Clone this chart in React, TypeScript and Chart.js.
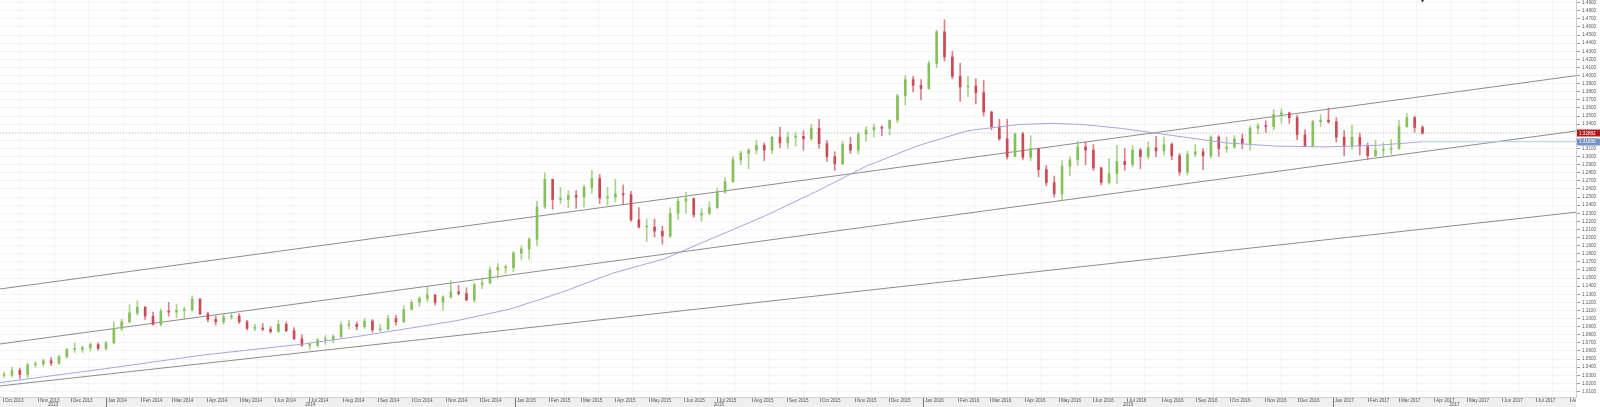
import React, { useEffect, useRef } from 'react';
import { Chart, registerables } from 'chart.js';

Chart.register(...registerables);

// ---------------- data ----------------
const firstWeekMonday = '2013-09-30';
const firstOpen = 1.03;

const weeklyClose = [
  // 2013
  1.0300, 1.0360, 1.0310, 1.0430, 1.0440, 1.0480, 1.0450, 1.0530, 1.0620, 1.0620, 1.0640, 1.0680, 1.0630, 1.0700,
  // 2014
  1.0880, 1.0960, 1.1070, 1.1140, 1.1030, 1.0930, 1.1090, 1.1080, 1.1100, 1.1110, 1.1240, 1.1060, 1.0990,
  1.0960, 1.1020, 1.1030, 1.0960, 1.0880, 1.0880, 1.0870, 1.0840, 1.0930, 1.0850, 1.0750, 1.0670, 1.0670,
  1.0740, 1.0740, 1.0780, 1.0920, 1.0930, 1.0900, 1.0970, 1.0860, 1.0870, 1.1000, 1.0960, 1.1110, 1.1200,
  1.1250, 1.1290, 1.1200, 1.1270, 1.1330, 1.1310, 1.1230, 1.1420, 1.1440, 1.1600, 1.1630, 1.1630, 1.1810,
  // 2015
  1.1860, 1.1980, 1.2380, 1.2720, 1.2470, 1.2470, 1.2520, 1.2500, 1.2620, 1.2730, 1.2490, 1.2500, 1.2540,
  1.2530, 1.2220, 1.2130, 1.2130, 1.2080, 1.2020, 1.2300, 1.2450, 1.2480, 1.2280, 1.2300, 1.2370, 1.2560,
  1.2690, 1.2960, 1.3040, 1.3080, 1.3140, 1.3080, 1.3240, 1.3170, 1.3240, 1.3250, 1.3220, 1.3350, 1.3160,
  1.3000, 1.2910, 1.3150, 1.3080, 1.3280, 1.3330, 1.3360, 1.3350, 1.3450, 1.3750, 1.3950, 1.3880, 1.3840,
  // 2016
  1.4150, 1.4540, 1.4230, 1.3990, 1.3860, 1.3870, 1.3790, 1.3550, 1.3370, 1.3220, 1.3000, 1.3280, 1.2990,
  1.3100, 1.2840, 1.2680, 1.2540, 1.2880, 1.2960, 1.3120, 1.3080, 1.2860, 1.2680, 1.2790, 1.2940, 1.2900,
  1.3080, 1.3000, 1.3110, 1.3070, 1.3150, 1.3010, 1.2810, 1.3030, 1.3060, 1.3010, 1.3240, 1.3100, 1.3120,
  1.3220, 1.3160, 1.3350, 1.3380, 1.3370, 1.3520, 1.3540, 1.3480, 1.3270, 1.3130, 1.3430, 1.3450, 1.3430,
  // 2017
  1.3240, 1.3130, 1.3240, 1.3130, 1.3010, 1.3080, 1.3090, 1.3100, 1.3370, 1.3480, 1.3360, 1.32882,
];

const weeklyHigh = [
  1.0340, 1.0400, 1.0390, 1.0450, 1.0470, 1.0500, 1.0520, 1.0550, 1.0630, 1.0700, 1.0660, 1.0700, 1.0700, 1.0720,
  1.0960, 1.0990, 1.1170, 1.1220, 1.1150, 1.1080, 1.1120, 1.1200, 1.1180, 1.1140, 1.1280, 1.1250, 1.1080,
  1.1030, 1.1050, 1.1060, 1.1060, 1.0980, 1.0930, 1.0940, 1.0900, 1.0980, 1.0960, 1.0890, 1.0800, 1.0700,
  1.0750, 1.0790, 1.0800, 1.0960, 1.0980, 1.0960, 1.1000, 1.0990, 1.0930, 1.1040, 1.1040, 1.1160, 1.1230,
  1.1270, 1.1390, 1.1300, 1.1280, 1.1470, 1.1410, 1.1380, 1.1440, 1.1500, 1.1640, 1.1680, 1.1660, 1.1830,
  1.1900, 1.2000, 1.2450, 1.2800, 1.2720, 1.2620, 1.2580, 1.2580, 1.2650, 1.2830, 1.2780, 1.2620, 1.2720,
  1.2650, 1.2570, 1.2370, 1.2230, 1.2230, 1.2140, 1.2370, 1.2500, 1.2560, 1.2490, 1.2360, 1.2440, 1.2610,
  1.2740, 1.3000, 1.3070, 1.3100, 1.3200, 1.3170, 1.3250, 1.3360, 1.3300, 1.3300, 1.3320, 1.3400, 1.3460,
  1.3200, 1.3060, 1.3190, 1.3240, 1.3300, 1.3370, 1.3400, 1.3380, 1.3450, 1.3770, 1.4000, 1.3990, 1.3950,
  1.4180, 1.4560, 1.4690, 1.4300, 1.4150, 1.3990, 1.3960, 1.3940, 1.3560, 1.3460, 1.3460, 1.3290, 1.3300,
  1.3260, 1.3100, 1.2890, 1.2760, 1.2950, 1.3000, 1.3190, 1.3180, 1.3150, 1.2870, 1.2980, 1.3140, 1.3100,
  1.3140, 1.3100, 1.3180, 1.3250, 1.3240, 1.3170, 1.3040, 1.3070, 1.3150, 1.3100, 1.3260, 1.3260, 1.3240,
  1.3260, 1.3280, 1.3380, 1.3410, 1.3440, 1.3580, 1.3590, 1.3550, 1.3510, 1.3330, 1.3450, 1.3520, 1.3600,
  1.3480, 1.3320, 1.3390, 1.3290, 1.3170, 1.3200, 1.3170, 1.3210, 1.3450, 1.3535, 1.3500, 1.3380,
];

const weeklyLow = [
  1.0270, 1.0280, 1.0260, 1.0270, 1.0400, 1.0410, 1.0420, 1.0430, 1.0510, 1.0580, 1.0580, 1.0600, 1.0610, 1.0610,
  1.0690, 1.0850, 1.0950, 1.1040, 1.0990, 1.0920, 1.0910, 1.1030, 1.1010, 1.1000, 1.1090, 1.1050, 1.0960,
  1.0920, 1.0930, 1.0990, 1.0940, 1.0860, 1.0850, 1.0850, 1.0820, 1.0830, 1.0840, 1.0740, 1.0660, 1.0620,
  1.0650, 1.0680, 1.0700, 1.0760, 1.0870, 1.0860, 1.0880, 1.0830, 1.0840, 1.0860, 1.0920, 1.0950, 1.1110,
  1.1150, 1.1210, 1.1170, 1.1100, 1.1250, 1.1290, 1.1220, 1.1200, 1.1370, 1.1430, 1.1500, 1.1560, 1.1580,
  1.1730, 1.1730, 1.1900, 1.2360, 1.2350, 1.2420, 1.2370, 1.2360, 1.2380, 1.2550, 1.2420, 1.2400, 1.2440,
  1.2410, 1.2200, 1.2120, 1.1950, 1.2010, 1.1920, 1.2000, 1.2220, 1.2300, 1.2250, 1.2200, 1.2280, 1.2360,
  1.2550, 1.2680, 1.2900, 1.2850, 1.3030, 1.2950, 1.3040, 1.3110, 1.3100, 1.3130, 1.3080, 1.3200, 1.3100,
  1.2940, 1.2830, 1.2900, 1.3040, 1.3030, 1.3190, 1.3240, 1.3260, 1.3270, 1.3420, 1.3640, 1.3800, 1.3700,
  1.3830, 1.4100, 1.4180, 1.3960, 1.3680, 1.3740, 1.3650, 1.3500, 1.3330, 1.3200, 1.2970, 1.3000, 1.2960,
  1.2950, 1.2750, 1.2640, 1.2500, 1.2460, 1.2760, 1.2890, 1.2900, 1.2830, 1.2650, 1.2660, 1.2670, 1.2830,
  1.2870, 1.2850, 1.2970, 1.3000, 1.3020, 1.2960, 1.2770, 1.2770, 1.3000, 1.2840, 1.2980, 1.3000, 1.3050,
  1.3100, 1.3100, 1.3080, 1.3280, 1.3300, 1.3330, 1.3410, 1.3410, 1.3210, 1.3120, 1.3120, 1.3370, 1.3410,
  1.3180, 1.3010, 1.3090, 1.3020, 1.2970, 1.3000, 1.3000, 1.3030, 1.3090, 1.3360, 1.3300, 1.3280,
];

// moving average (lavender line), read at intervals
const maDates = [
  '2013-09-28', '2013-12-28', '2014-03-29', '2014-06-28', '2014-08-13', '2014-09-28', '2014-11-12',
  '2014-12-28', '2015-02-11', '2015-03-29', '2015-05-14', '2015-06-28', '2015-08-12', '2015-09-27',
  '2015-11-11', '2015-12-27', '2016-02-10', '2016-03-27', '2016-04-24', '2016-05-22', '2016-06-27',
  '2016-08-12', '2016-09-27', '2016-11-11', '2016-12-26', '2017-02-10', '2017-03-22',
];
const maValues = [
  1.0210, 1.0375, 1.0551, 1.0689, 1.0778, 1.0878, 1.0979,
  1.1118, 1.1319, 1.1558, 1.1735, 1.1999, 1.2264, 1.2566,
  1.2881, 1.3133, 1.3321, 1.3397, 1.3410, 1.3397, 1.3347,
  1.3258, 1.3170, 1.3130, 1.3120, 1.3140, 1.3183,
];

// trend channel lines (values at left and right plot edges)
const trendDates = ['2013-09-28', '2017-08-06'];
const upperTrend = [1.1365, 1.3999];
const middleTrend = [1.0686, 1.3316];
const lowerTrend = [1.0168, 1.2313];

const lastPrice = 1.32882;

const monthLabels = [
  'Oct 2013', 'Nov 2013', 'Dec 2013',
  'Jan 2014', 'Feb 2014', 'Mar 2014', 'Apr 2014', 'May 2014', 'Jun 2014', 'Jul 2014', 'Aug 2014', 'Sep 2014', 'Oct 2014', 'Nov 2014', 'Dec 2014',
  'Jan 2015', 'Feb 2015', 'Mar 2015', 'Apr 2015', 'May 2015', 'Jun 2015', 'Jul 2015', 'Aug 2015', 'Sep 2015', 'Oct 2015', 'Nov 2015', 'Dec 2015',
  'Jan 2016', 'Feb 2016', 'Mar 2016', 'Apr 2016', 'May 2016', 'Jun 2016', 'Jul 2016', 'Aug 2016', 'Sep 2016', 'Oct 2016', 'Nov 2016', 'Dec 2016',
  'Jan 2017', 'Feb 2017', 'Mar 2017', 'Apr 2017', 'May 2017', 'Jun 2017', 'Jul 2017', 'Aug 2017',
];
const yearLabels = ['2013', '2014', '2015', '2016', '2017'];

// ---------------- helpers ----------------
const MONTHS = ['Jan', 'Feb', 'Mar', 'Apr', 'May', 'Jun', 'Jul', 'Aug', 'Sep', 'Oct', 'Nov', 'Dec'];
const ORIGIN = Date.UTC(2013, 9, 1);
const DAY = 86400000;
const dayOf = (s: string) => {
  const [y, m, d] = s.split('-').map(Number);
  return (Date.UTC(y, m - 1, d) - ORIGIN) / DAY;
};
const dayOfMonth = (s: string) => {
  const [mn, yr] = s.split(' ');
  return (Date.UTC(Number(yr), MONTHS.indexOf(mn), 1) - ORIGIN) / DAY;
};
const dayOfYear = (y: string) => (Date.UTC(Number(y), 0, 1) - ORIGIN) / DAY;

const X_MIN = -2.68;
const X_MAX = 1405.1;
const Y_MIN = 1.00321;
const Y_MAX = 1.49333;

const UP = '#86c05a';
const DOWN = '#cc4a55';
const UP_WICK = 'rgba(134,192,90,0.7)';
const DOWN_WICK = 'rgba(204,74,85,0.7)';
const FONT = 'Liberation Sans';

const candles = weeklyClose.map((c, i) => {
  const o = i === 0 ? firstOpen : weeklyClose[i - 1];
  return { x: dayOf(firstWeekMonday) + 7 * i + 2, o, h: weeklyHigh[i], l: weeklyLow[i], c };
});
const lastCandleX = candles[candles.length - 1].x;
const lastMA = maValues[maValues.length - 1];

const overlayPlugin = {
  id: 'overlay',
  afterDraw(chart: any) {
    const { ctx, chartArea, scales } = chart;
    const xs = scales.x;
    const ys = scales.y;
    const L = chartArea.left;
    const R = chartArea.right;
    const B = chartArea.bottom;
    ctx.save();

    // bottom time axis band
    ctx.fillStyle = '#efefef';
    ctx.fillRect(L, B, R - L, 407 - B);
    ctx.strokeStyle = '#d2d2d2';
    ctx.lineWidth = 1;
    ctx.beginPath();
    ctx.moveTo(L, B + 0.5);
    ctx.lineTo(R, B + 0.5);
    ctx.stroke();

    ctx.beginPath();
    ctx.rect(L, B, R - L, 407 - B);
    ctx.clip();

    ctx.font = `4.6px "${FONT}"`;
    ctx.textBaseline = 'middle';
    ctx.textAlign = 'left';
    monthLabels.forEach((m) => {
      const px = Math.round(xs.getPixelForValue(dayOfMonth(m))) + 0.5;
      ctx.strokeStyle = '#8a8a8a';
      ctx.beginPath();
      ctx.moveTo(px, B + 1);
      ctx.lineTo(px, B + 5);
      ctx.stroke();
      ctx.fillStyle = '#555';
      ctx.fillText(m, px + 1.5, B + 3.3);
    });

    // year row
    ctx.textAlign = 'center';
    yearLabels.forEach((y, i) => {
      const start = Math.max(L, xs.getPixelForValue(dayOfYear(y)));
      const end = i < yearLabels.length - 1 ? Math.min(R, xs.getPixelForValue(dayOfYear(yearLabels[i + 1]))) : R;
      if (i > 0) {
        const px = Math.round(start) + 0.5;
        ctx.strokeStyle = '#777';
        ctx.beginPath();
        ctx.moveTo(px, B + 1);
        ctx.lineTo(px, 407);
        ctx.stroke();
      }
      ctx.fillStyle = '#555';
      ctx.fillText(y, (start + end) / 2, B + 8);
    });
    ctx.restore();

    // price boxes on the right axis
    ctx.save();
    ctx.font = `4.6px "${FONT}"`;
    ctx.textBaseline = 'middle';
    ctx.textAlign = 'left';
    const drawBox = (val: number, bg: string) => {
      const py = ys.getPixelForValue(val);
      ctx.fillStyle = bg;
      ctx.fillRect(R + 1, Math.round(py) - 3.5, 600, 7);
      ctx.fillStyle = '#ffffff';
      ctx.fillText(val.toFixed(5), R + 3, py + 0.3);
    };
    drawBox(lastPrice, '#b31b1b');
    drawBox(lastMA, '#7391c8');

    // small marker above the last bar
    const mx = xs.getPixelForValue(lastCandleX);
    ctx.fillStyle = '#333';
    ctx.beginPath();
    ctx.moveTo(mx - 1.5, 0);
    ctx.lineTo(mx + 1.5, 0);
    ctx.lineTo(mx, 2.5);
    ctx.closePath();
    ctx.fill();
    ctx.restore();
  },
};

const lineDs = (label: string, data: any[], color: string, extra: any = {}) => ({
  type: 'line',
  label,
  data,
  borderColor: color,
  borderWidth: 1,
  pointRadius: 0,
  tension: 0,
  fill: false,
  ...extra,
});

export default function App() {
  const ref = useRef<HTMLCanvasElement | null>(null);

  useEffect(() => {
    document.body.style.margin = '0';
    const canvas = ref.current;
    if (!canvas) return;

    const trendData = (vals: number[]) => trendDates.map((d, i) => ({ x: dayOf(d), y: vals[i] }));

    const chart = new Chart(canvas, {
      type: 'bar',
      data: {
        datasets: [
          lineDs('Upper channel', trendData(upperTrend), '#8c8c8c', { order: 5 }),
          lineDs('Middle channel', trendData(middleTrend), '#8c8c8c', { order: 5 }),
          lineDs('Lower channel', trendData(lowerTrend), '#8c8c8c', { order: 5 }),
          lineDs('Last price', [{ x: X_MIN, y: lastPrice }, { x: X_MAX, y: lastPrice }], '#c4c4c4', { borderDash: [1, 2], order: 6 }),
          lineDs('MA', maDates.map((d, i) => ({ x: dayOf(d), y: maValues[i] })), '#a3a6e3', { order: 0 }),
          lineDs('MA level', [{ x: lastCandleX, y: lastMA }, { x: X_MAX, y: lastMA }], '#b7cbe8', { order: 0 }),
          {
            type: 'bar',
            label: 'wick',
            data: candles.map((k) => ({ x: k.x, y: [k.l, k.h] })),
            backgroundColor: candles.map((k) => (k.c >= k.o ? UP_WICK : DOWN_WICK)),
            barThickness: 1,
            grouped: false,
            order: 2,
          },
          {
            type: 'bar',
            label: 'body',
            data: candles.map((k) => ({ x: k.x, y: [k.o, k.c] })),
            backgroundColor: candles.map((k) => (k.c >= k.o ? UP : DOWN)),
            barThickness: 2,
            minBarLength: 1,
            grouped: false,
            order: 1,
          },
        ] as any,
      },
      options: {
        responsive: false,
        maintainAspectRatio: false,
        devicePixelRatio: 1,
        animation: false,
        events: [],
        layout: { padding: 0 },
        plugins: { legend: { display: false }, tooltip: { enabled: false } },
        scales: {
          x: {
            type: 'linear',
            min: X_MIN,
            max: X_MAX,
            offset: false,
            afterBuildTicks: (s: any) => {
              s.ticks = monthLabels.map((m) => ({ value: dayOfMonth(m) }));
            },
            ticks: { display: false },
            grid: { color: '#f5f5f5', drawTicks: false },
            border: { display: false },
            afterFit: (s: any) => {
              s.height = 10;
              s.paddingLeft = 0;
              s.paddingRight = 0;
            },
          },
          y: {
            type: 'linear',
            position: 'right',
            min: Y_MIN,
            max: Y_MAX,
            ticks: {
              stepSize: 0.01,
              includeBounds: false,
              autoSkip: false,
              font: { size: 4.6, family: FONT },
              color: '#555',
              padding: 2,
              callback: (v: any) => Number(v).toFixed(4),
            },
            grid: { color: '#f5f5f5', tickLength: 4, tickColor: '#999' },
            border: { display: true, color: '#d0d0d0' },
            afterFit: (s: any) => {
              s.width = 24;
              s.paddingTop = 0;
              s.paddingBottom = 0;
            },
          },
        },
      } as any,
      plugins: [overlayPlugin],
    });

    return () => chart.destroy();
  }, []);

  return (
    <div style={{ position: 'fixed', left: 0, top: 0, width: 1600, height: 407, background: '#fff' }}>
      <canvas ref={ref} width={1600} height={407} style={{ display: 'block', width: 1600, height: 407 }} />
    </div>
  );
}
